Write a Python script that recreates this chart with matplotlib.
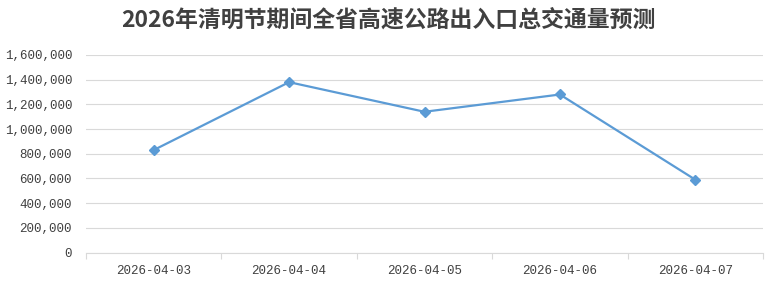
import matplotlib
matplotlib.use("Agg")
import matplotlib.pyplot as plt
from matplotlib.ticker import FuncFormatter, FixedLocator

dates = ["2026-04-03", "2026-04-04", "2026-04-05", "2026-04-06", "2026-04-07"]
traffic = [830000, 1380000, 1140000, 1280000, 590000]
y_ticks = [0, 200000, 400000, 600000, 800000, 1000000, 1200000, 1400000, 1600000]
title = "2026年清明节期间全省高速公路出入口总交通量预测"

text_color = "#404040"
grid_color = "#d9d9d9"
line_color = "#5b9bd5"

fig = plt.figure(figsize=(7.77, 2.85), dpi=100)
ax = fig.add_axes([86 / 777, 1 - 252.5 / 285, (763 - 86) / 777, (252.5 - 55) / 285])

x = list(range(len(dates)))
ax.plot(x, traffic, color=line_color, linewidth=1.6, marker="D", markersize=5,
        markerfacecolor=line_color, markeredgecolor=line_color, zorder=3)

ax.set_xlim(-0.5, len(dates) - 0.5)
ax.set_ylim(0, 1600000)
ax.set_yticks(y_ticks)
ax.yaxis.set_major_formatter(FuncFormatter(lambda v, p: "{:,.0f}".format(v)))
ax.set_xticks(x)
ax.set_xticklabels(dates)
ax.xaxis.set_minor_locator(FixedLocator([i - 0.5 for i in range(len(dates) + 1)]))

ax.grid(axis="y", color=grid_color, linewidth=0.8)
ax.set_axisbelow(True)
for side in ["top", "right", "left"]:
    ax.spines[side].set_visible(False)
ax.spines["bottom"].set_color(grid_color)
ax.spines["bottom"].set_linewidth(0.8)

ax.tick_params(axis="y", length=0, pad=10, labelsize=9, labelcolor=text_color,
               labelfontfamily="Liberation Mono")
ax.tick_params(axis="x", which="major", length=0, pad=9, labelsize=9,
               labelcolor=text_color, labelfontfamily="Liberation Mono")
ax.tick_params(axis="x", which="minor", length=4, width=0.8, color=grid_color)

fig.text(0.5, 1 - 20 / 285, title, ha="center", va="center", fontsize=16.5,
         fontweight="bold", color=text_color,
         family=["Noto Sans CJK SC", "DejaVu Sans"])

fig.savefig("out.png", dpi=100)
